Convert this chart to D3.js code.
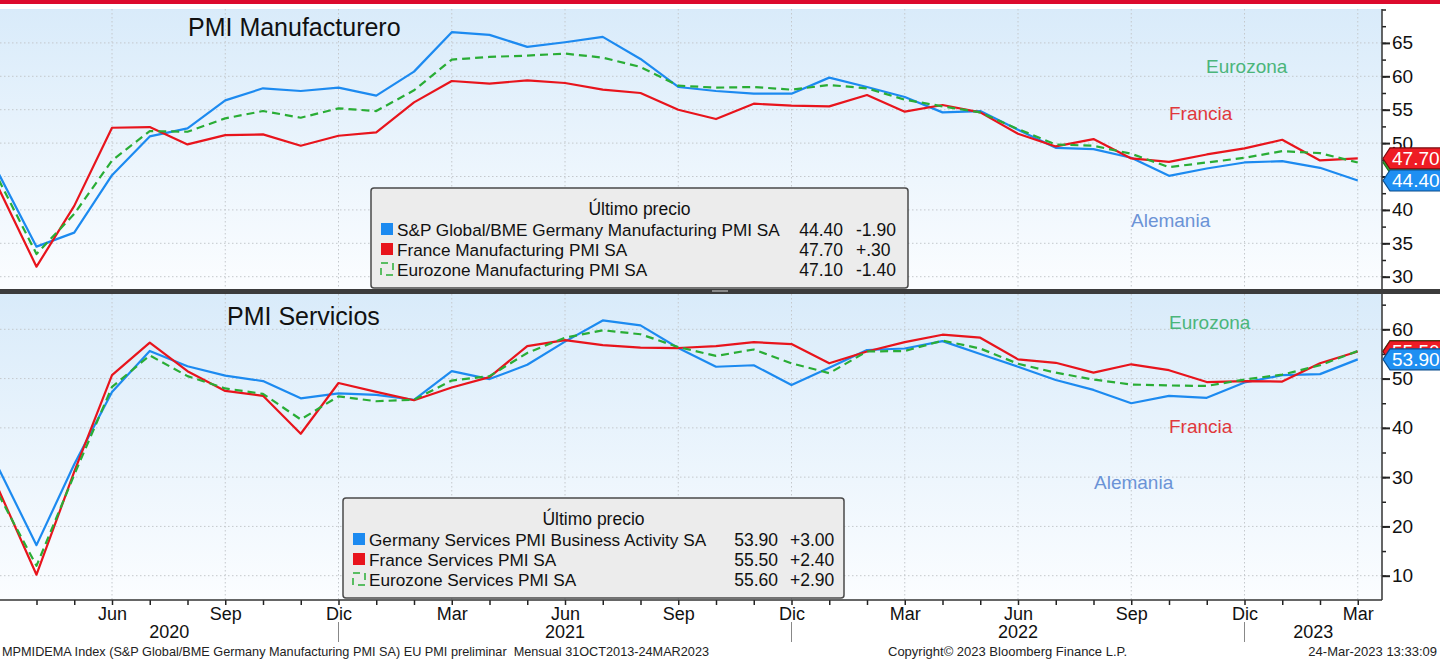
<!DOCTYPE html>
<html>
<head>
<meta charset="utf-8">
<script src="https://cdn.jsdelivr.net/npm/d3@7"></script>
<style>
  body { margin: 0; background: #fff; }
  svg { display: block; font-family: "Liberation Sans", Arial, sans-serif; }
</style>
</head>
<body>
<div class="chart"></div>
<script>
// months on the x axis (monthly PMI readings)
const months = ["2020-03","2020-04","2020-05","2020-06","2020-07","2020-08","2020-09","2020-10","2020-11","2020-12",
  "2021-01","2021-02","2021-03","2021-04","2021-05","2021-06","2021-07","2021-08","2021-09","2021-10","2021-11","2021-12",
  "2022-01","2022-02","2022-03","2022-04","2022-05","2022-06","2022-07","2022-08","2022-09","2022-10","2022-11","2022-12",
  "2023-01","2023-02","2023-03"];
const monthNames = {"03": "Mar", "06": "Jun", "09": "Sep", "12": "Dic"};
const years = ["2020", "2021", "2022", "2023"];

// manufacturing
const deMfg = [45.4,34.5,36.6,45.2,51.0,52.2,56.4,58.2,57.8,58.3,57.1,60.7,66.6,66.2,64.4,65.1,65.9,62.6,58.4,57.8,57.4,57.4,
  59.8,58.4,56.9,54.6,54.8,52.0,49.3,49.1,47.8,45.1,46.2,47.1,47.3,46.3,44.4];
const frMfg = [43.2,31.5,40.6,52.3,52.4,49.8,51.2,51.3,49.6,51.1,51.6,56.1,59.3,58.9,59.4,59.0,58.0,57.5,55.0,53.6,55.9,55.6,
  55.5,57.2,54.7,55.7,54.6,51.4,49.5,50.6,47.7,47.2,48.3,49.2,50.5,47.4,47.7];
const ezMfg = [44.5,33.4,39.4,47.4,51.8,51.7,53.7,54.8,53.8,55.2,54.8,57.9,62.5,62.9,63.1,63.4,62.8,61.4,58.6,58.3,58.4,58.0,
  58.7,58.2,56.5,55.5,54.6,52.1,49.8,49.6,48.4,46.4,47.1,47.8,48.8,48.5,47.1];

// services
const deSrv = [31.7,16.2,32.6,47.3,55.6,52.5,50.6,49.5,46.0,47.0,46.7,45.7,51.5,49.9,52.8,57.5,61.8,60.8,56.2,52.4,52.7,48.7,
  52.2,55.8,56.1,57.6,55.0,52.4,49.7,47.7,45.0,46.5,46.1,49.2,50.7,50.9,53.9];
const frSrv = [27.4,10.2,31.1,50.7,57.3,51.5,47.5,46.5,38.8,49.1,47.3,45.6,48.2,50.3,56.6,57.8,56.8,56.3,56.2,56.6,57.4,57.0,
  53.1,55.5,57.4,58.9,58.3,53.9,53.2,51.2,52.9,51.7,49.3,49.5,49.4,53.1,55.5];
const ezSrv = [26.4,12.0,30.5,48.3,54.7,50.5,48.0,46.9,41.7,46.4,45.4,45.7,49.6,50.5,55.2,58.3,59.8,59.0,56.4,54.6,55.9,53.1,
  51.1,55.5,55.6,57.7,56.1,53.0,51.2,49.8,48.8,48.6,48.5,49.8,50.8,52.7,55.6];

const mfgLegend = [
  {name: "S&P Global/BME Germany Manufacturing PMI SA", last: "44.40", chg: "-1.90"},
  {name: "France Manufacturing PMI SA", last: "47.70", chg: "+.30"},
  {name: "Eurozone Manufacturing PMI SA", last: "47.10", chg: "-1.40"}
];
const srvLegend = [
  {name: "Germany Services PMI Business Activity SA", last: "53.90", chg: "+3.00"},
  {name: "France Services PMI SA", last: "55.50", chg: "+2.40"},
  {name: "Eurozone Services PMI SA", last: "55.60", chg: "+2.90"}
];
const mfgTicks = [30, 35, 40, 45, 50, 55, 60, 65];
const srvTicks = [10, 20, 30, 40, 50, 60];
// tick labels that sit fully under the last-value tags
const hiddenTickLabels = [45];

const width = 1440, height = 659;
const axisX = 1382;
const blue = "#1c8af0", red = "#e8141c", green = "#29ad35";

const svg = d3.select(".chart").append("svg")
  .attr("width", width).attr("height", height);

const defs = svg.append("defs");
const grad = defs.append("linearGradient").attr("id", "bg")
  .attr("x1", 0).attr("y1", 0).attr("x2", 0).attr("y2", 1);
grad.append("stop").attr("offset", "0%").attr("stop-color", "#d9ebfa");
grad.append("stop").attr("offset", "100%").attr("stop-color", "#fbfdff");

// top red band
svg.append("rect").attr("x", 0).attr("y", 0).attr("width", width).attr("height", 4).attr("fill", "#dc0a2d");

const x = d3.scaleLinear().domain([0, months.length - 1]).range([-1.25, 1357.75]);
const quarterIdx = months.map((m, i) => i).filter(i => monthNames[months[i].slice(5)]);

const panels = [
  {top: 9, bottom: 289, y: d3.scaleLinear().domain([30, 65]).range([276.7, 42.9]),
   ticks: mfgTicks, minorStep: 2.5, title: "PMI Manufacturero", titleX: 188, titleY: 36,
   series: [ezMfg, frMfg, deMfg], legend: mfgLegend,
   box: {x: 371, y: 188, w: 537, h: 100, valX: 843, chgX: 856},
   labels: [{t: "Eurozona", x: 1206, y: 73, c: "#4bb57a"}, {t: "Francia", x: 1169, y: 120, c: "#e0383c"},
            {t: "Alemania", x: 1131, y: 227, c: "#6b93d6"}]},
  {top: 294, bottom: 600, y: d3.scaleLinear().domain([10, 60]).range([575.7, 329.3]),
   ticks: srvTicks, minorStep: 5, title: "PMI Servicios", titleX: 227, titleY: 325,
   series: [ezSrv, frSrv, deSrv], legend: srvLegend,
   box: {x: 343, y: 498, w: 501, h: 100, valX: 778, chgX: 790},
   labels: [{t: "Eurozona", x: 1169, y: 329, c: "#4bb57a"}, {t: "Francia", x: 1169, y: 433, c: "#e0383c"},
            {t: "Alemania", x: 1094, y: 489, c: "#6b93d6"}]}
];

panels.forEach((p, k) => {
  const g = svg.append("g");
  g.append("rect").attr("x", 0).attr("y", p.top).attr("width", axisX).attr("height", p.bottom - p.top)
    .attr("fill", "url(#bg)");

  const clipId = "clip" + k;
  defs.append("clipPath").attr("id", clipId).append("rect")
    .attr("x", 0).attr("y", p.top).attr("width", axisX).attr("height", p.bottom - p.top);

  // grid
  g.selectAll("line.hgrid").data(p.ticks).enter().append("line")
    .attr("x1", 0).attr("x2", axisX)
    .attr("y1", d => p.y(d)).attr("y2", d => p.y(d))
    .attr("stroke", "#c4c8cc").attr("stroke-dasharray", "1.5,2.5");
  g.selectAll("line.vgrid").data(quarterIdx).enter().append("line")
    .attr("x1", d => x(d)).attr("x2", d => x(d))
    .attr("y1", p.top).attr("y2", p.bottom)
    .attr("stroke", "#c4c8cc").attr("stroke-dasharray", "1.5,2.5");

  // title
  g.append("text").text(p.title).attr("x", p.titleX).attr("y", p.titleY)
    .attr("font-size", 25).attr("fill", "#111");

  // series labels
  g.selectAll("text.lab").data(p.labels).enter().append("text")
    .text(d => d.t).attr("x", d => d.x).attr("y", d => d.y)
    .attr("font-size", 19).attr("fill", d => d.c);

  // lines
  const line = d3.line().x((d, i) => x(i)).y(d => p.y(d));
  const lines = g.append("g").attr("clip-path", `url(#${clipId})`);
  const styles = [
    {c: green, dash: "8,5"},
    {c: red, dash: null},
    {c: blue, dash: null}
  ];
  // blue and red first, dashed green on top
  [2, 1, 0].forEach(j => {
    lines.append("path").datum(p.series[j]).attr("d", line)
      .attr("fill", "none").attr("stroke", styles[j].c).attr("stroke-width", 2.2)
      .attr("stroke-dasharray", styles[j].dash).attr("stroke-linejoin", "round");
  });

  // right axis
  const yMinor = d3.range(p.y.domain()[0] - 2 * p.minorStep, 71, p.minorStep)
    .filter(v => p.y(v) >= p.top && p.y(v) <= p.bottom);
  const minorAxis = d3.axisRight(p.y).tickValues(yMinor).tickSize(4).tickFormat("");
  const ax2 = g.append("g").attr("transform", `translate(${axisX},0)`).call(minorAxis);
  ax2.select(".domain").remove();
  ax2.selectAll("line").attr("stroke", "#222").attr("stroke-width", 1.5);

  const majorAxis = d3.axisRight(p.y).tickValues(p.ticks).tickSize(8).tickPadding(2)
    .tickFormat(d => hiddenTickLabels.includes(d) ? "" : d);
  const ax = g.append("g").attr("transform", `translate(${axisX},0)`).call(majorAxis);
  ax.select(".domain").remove();
  ax.selectAll("line").attr("stroke", "#222").attr("stroke-width", 2);
  ax.selectAll("text").attr("font-size", 19).attr("fill", "#111")
    .attr("font-family", "Liberation Sans, Arial, sans-serif");

  g.append("line").attr("x1", axisX).attr("x2", axisX).attr("y1", p.top).attr("y2", p.bottom)
    .attr("stroke", "#333").attr("stroke-width", 1.5);

  // legend box
  const b = p.box;
  const lg = g.append("g");
  lg.append("rect").attr("x", b.x).attr("y", b.y).attr("width", b.w).attr("height", b.h)
    .attr("rx", 3).attr("fill", "#ececec").attr("stroke", "#4a4a4a").attr("stroke-width", 1.5);
  lg.append("text").text("Último precio").attr("x", b.x + b.w / 2).attr("y", b.y + 27)
    .attr("text-anchor", "middle").attr("font-size", 17.5).attr("fill", "#111");
  const rows = lg.selectAll("g.row").data(p.legend).enter().append("g")
    .attr("transform", (d, i) => `translate(0,${b.y + 41 + i * 20})`);
  rows.append("rect").attr("x", b.x + 10).attr("y", -6).attr("width", 12).attr("height", 12)
    .attr("fill", (d, i) => i === 2 ? "none" : (i === 0 ? blue : red))
    .attr("stroke", (d, i) => i === 2 ? green : "none")
    .attr("stroke-width", 1.5)
    .attr("stroke-dasharray", (d, i) => i === 2 ? "7,5" : null);
  rows.append("text").text(d => d.name).attr("x", b.x + 26).attr("y", 6.5)
    .attr("font-size", 17.2).attr("fill", "#111");
  rows.append("text").text(d => d.last).attr("x", b.valX).attr("y", 6.5)
    .attr("text-anchor", "end").attr("font-size", 17.5).attr("fill", "#111");
  rows.append("text").text(d => d.chg).attr("x", b.chgX).attr("y", 6.5)
    .attr("font-size", 17.5).attr("fill", "#111");

  // last value tags (green one sits under the red one, its number is hidden)
  const tagFill = [green, "#ee1c24", "#1e8ff2"];
  const tagStroke = ["#1d6e22", "#7a0a0e", "#0b4d8c"];
  [0, 1, 2].forEach(j => {
    const s = p.series[j];
    const last = s[s.length - 1];
    const cy = p.y(last);
    const tg = g.append("g");
    tg.append("path")
      .attr("d", `M${axisX + 1},${cy} L${axisX + 8},${cy - 10.5} L${width + 5},${cy - 10.5} L${width + 5},${cy + 10.5} L${axisX + 8},${cy + 10.5} Z`)
      .attr("fill", tagFill[j]).attr("stroke", tagStroke[j]).attr("stroke-width", 1.2);
    if (j > 0) {
      tg.append("text").text(last.toFixed(2)).attr("x", axisX + 10).attr("y", cy + 6.5)
        .attr("font-size", 19).attr("fill", "#fff");
    }
  });
});

// separator between the panels
svg.append("rect").attr("x", 0).attr("y", 289).attr("width", width).attr("height", 5).attr("fill", "#3c3c3c");
svg.append("rect").attr("x", 712).attr("y", 290).attr("width", 16).attr("height", 2).attr("fill", "#8a8a8a");

// x axis
const xAxis = d3.axisBottom(x).tickValues(d3.range(0, months.length)).tickSize(5).tickPadding(2)
  .tickFormat(i => (i > 0 && monthNames[months[i].slice(5)]) || "");
const xa = svg.append("g").attr("transform", "translate(0,600)").call(xAxis);
xa.select(".domain").remove();
xa.selectAll("line").attr("stroke", "#222").attr("stroke-width", 1.5);
xa.selectAll("text").attr("font-size", 18).attr("fill", "#111")
  .attr("font-family", "Liberation Sans, Arial, sans-serif");
svg.append("line").attr("x1", 0).attr("x2", axisX).attr("y1", 600).attr("y2", 600)
  .attr("stroke", "#333").attr("stroke-width", 1.5);

// year labels and separators
const decIdx = months.map((m, i) => i).filter(i => months[i].slice(5) === "12");
const edges = [0].concat(decIdx.map(i => x(i))).concat([axisX]);
svg.selectAll("text.year").data(years).enter().append("text")
  .text(d => d).attr("x", (d, i) => (edges[i] + edges[i + 1]) / 2).attr("y", 638)
  .attr("text-anchor", "middle").attr("font-size", 18).attr("fill", "#111");
svg.selectAll("line.ysep").data(decIdx).enter().append("line")
  .attr("x1", d => x(d)).attr("x2", d => x(d)).attr("y1", 622).attr("y2", 642)
  .attr("stroke", "#888").attr("stroke-width", 1);

// footer
svg.append("text").text("MPMIDEMA Index (S&P Global/BME Germany Manufacturing PMI SA) EU PMI preliminar  Mensual 31OCT2013-24MAR2023")
  .attr("x", 2).attr("y", 656).attr("font-size", 12.7).attr("fill", "#222").attr("xml:space", "preserve");
svg.append("text").text("Copyright© 2023 Bloomberg Finance L.P.")
  .attr("x", 888).attr("y", 656).attr("font-size", 13).attr("fill", "#222");
svg.append("text").text("24-Mar-2023 13:33:09")
  .attr("x", 1437).attr("y", 656).attr("text-anchor", "end").attr("font-size", 13).attr("fill", "#222");
</script>
</body>
</html>
